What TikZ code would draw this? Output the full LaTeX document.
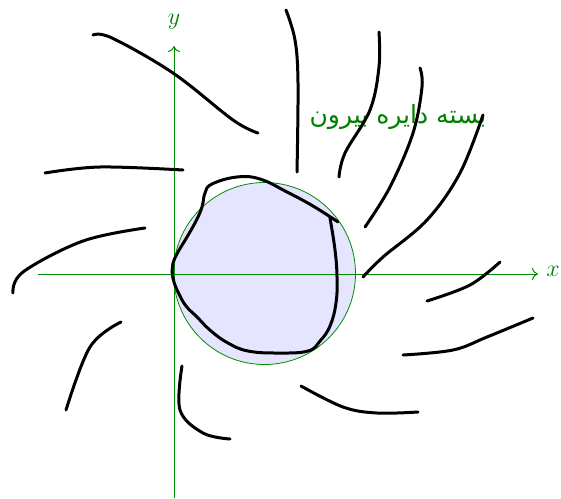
\documentclass[tikz,border=0pt]{standalone}
\usepackage{fontspec}
\usetikzlibrary{arrows.meta}
\TeXXeTstate=1
\newfontfamily\arabicfont[Script=Arabic]{DejaVu Sans}
\colorlet{axgreen}{green!55!black}
\colorlet{txtgreen}{green!50!black}
\colorlet{diskfill}{blue!10}
\begin{document}
\begin{tikzpicture}[x=0.5pt,y=-0.5pt,
  ax/.style={draw=axgreen, line width=0.5pt, -{To[length=3pt,width=6pt]}},
  hand/.style={draw=black, line width=1.5pt, line cap=round, line join=round},
  lbl/.style={text=txtgreen, inner sep=0pt, font=\fontsize{13}{15}\selectfont},
]
\useasboundingbox (0,0) rectangle (561,498);
% disk
\draw[fill=diskfill, draw=axgreen, line width=0.4pt] (264.5,273.5) circle (91);
% axes
\coordinate (xs) at (38,274);
\coordinate (xe) at (538,274);
\coordinate (ys) at (174,498);
\coordinate (ye) at (174,46);
\draw[ax] (xs) -- (xe);
\draw[ax] (ys) -- (ye);
\node[lbl] (xl) at (553,271) {$x$};
\node[lbl] (yl) at (174,22) {$y$};
% label
\node[text=txtgreen, inner sep=0pt, font=\fontsize{12.5}{15}\selectfont] (lab) at (398,117) {\arabicfont\beginR بسته دایره بیرون\endR};
% blob
\draw[hand] plot[smooth, tension=0.7] coordinates {
 (338,222) (313,206) (287,192) (260,179) (237,177) (212,184) (205,193)
 (202,207) (196,221) (187,237) (178,252) (173,263) (172,271) (174,282)
 (179,294) (186,306) (197,317) (211,331) (228,343) (248,351) (278,353)
 (308,351) (320,341) (330,326) (336,303) (337,277) (335,250) (330,218)};
% strokes
\draw[hand] plot[smooth, tension=0.6] coordinates {(93,35) (112,38) (173,73) (233,120) (258,133)};
\draw[hand] plot[smooth, tension=0.6] coordinates {(45,173) (100,167) (183,170)};
\draw[hand] plot[smooth, tension=0.6] coordinates {(13,293) (23,272) (83,241) (145,228)};
\draw[hand] plot[smooth, tension=0.6] coordinates {(121,322) (90,347) (66,410)};
\draw[hand] plot[smooth, tension=0.6] coordinates {(182,366) (180,410) (203,433) (230,439)};
\draw[hand] plot[smooth, tension=0.6] coordinates {(301,386) (343,407) (377,413) (418,412)};
\draw[hand] plot[smooth, tension=0.6] coordinates {(403,355) (453,350) (487,337) (533,318)};
\draw[hand] plot[smooth, tension=0.6] coordinates {(427,301) (470,285) (500,262)};
\draw[hand] plot[smooth, tension=0.6] coordinates {(483,115) (460,173) (427,220) (383,257) (363,277)};
\draw[hand] plot[smooth, tension=0.6] coordinates {(420,68) (422,87) (413,133) (390,187) (365,227)};
\draw[hand] plot[smooth, tension=0.6] coordinates {(379,32) (379,67) (370,110) (345,153) (339,177)};
\draw[hand] plot[smooth, tension=0.6] coordinates {(286,10) (295,40) (298,83) (297,172)};
\end{tikzpicture}
\end{document}
